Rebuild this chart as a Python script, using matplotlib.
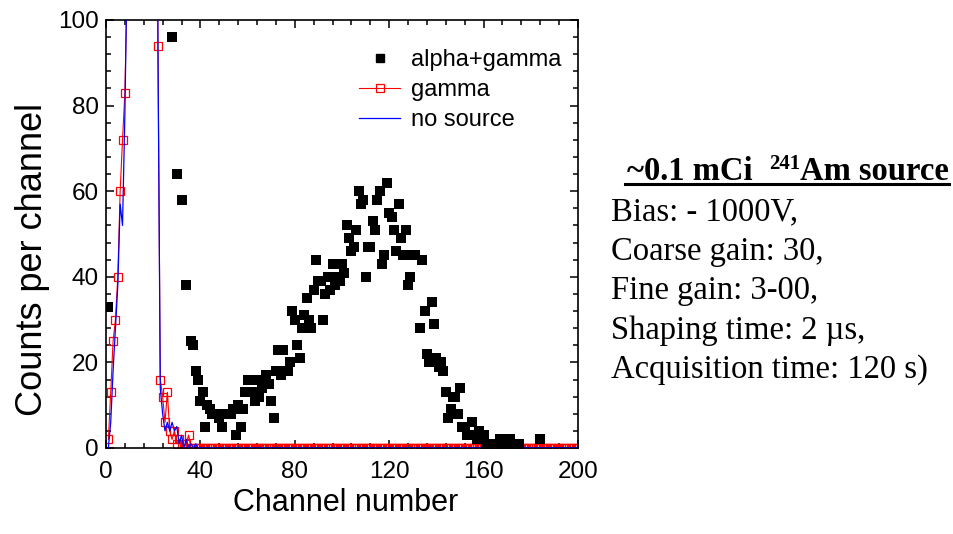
import matplotlib
matplotlib.use("Agg")
import matplotlib.pyplot as plt
from matplotlib.lines import Line2D
from matplotlib.ticker import MultipleLocator

# gamma only source, channels 1..200 (9-21 run off the top of the plot)
gamma_ch = list(range(1, 201))
gamma_counts = [2, 13, 25, 30, 40, 60, 72, 83, 110, 190, 300, 420, 520, 580, 600,
                570, 500, 420, 340, 280, 230, 94, 16, 12, 6, 13, 4, 2, 4, 1,
                2, 1, 0, 1, 3, 0] + [0] * 164

# no source
nosrc_ch = list(range(1, 201))
nosrc_counts = [0, 6, 18, 28, 38, 57, 52, 78, 115, 200, 310, 430, 530, 590, 610,
                580, 510, 430, 350, 290, 260, 95, 14, 8, 4, 6, 4, 6, 4, 5,
                1, 3, 0, 2, 0, 1, 0, 1] + [0] * 162

# alpha+gamma, points inside the plotted window (zero channels not drawn)
ag_ch = [1, 28, 30, 32, 34, 36, 37, 38, 39, 40, 41, 42, 43, 44, 45, 46, 47, 48,
         49, 50, 51, 52, 53, 54, 55, 56, 57, 58, 59, 60, 61, 62, 63, 64, 65, 66,
         67, 68, 69, 70, 71, 72, 73, 74, 75, 76, 77, 78, 79, 80, 81, 82, 83, 84,
         85, 86, 87, 88, 89, 90, 91, 92, 93, 94, 95, 96, 97, 98, 99, 100, 101,
         102, 103, 104, 105, 106, 107, 108, 109, 110, 111, 112, 113, 114, 115,
         116, 117, 118, 119, 120, 121, 122, 123, 124, 125, 126, 127, 128, 129,
         130, 131, 133, 134, 135, 136, 137, 138, 139, 140, 141, 142, 143, 144,
         145, 146, 147, 148, 149, 150, 151, 152, 153, 155, 156, 157, 158, 160,
         161, 162, 163, 164, 165, 166, 167, 168, 169, 170, 171, 172, 174, 175, 184]
ag_counts = [33, 96, 64, 58, 38, 25, 24, 18, 16, 11, 13, 5, 10, 9, 8, 8, 8, 7,
             5, 8, 8, 8, 8, 9, 3, 10, 5, 9, 13, 16, 16, 13, 11, 16, 12, 14,
             15, 17, 15, 11, 7, 18, 23, 17, 23, 18, 18, 20, 32, 30, 24, 21, 28, 31,
             35, 30, 28, 37, 44, 39, 39, 30, 36, 40, 37, 43, 38, 40, 39, 43, 41,
             52, 49, 46, 47, 51, 60, 57, 58, 40, 47, 47, 53, 51, 58,
             60, 43, 45, 62, 55, 54, 51, 46, 57, 49, 45, 51, 38, 40,
             45, 45, 28, 44, 32, 22, 20, 34, 29, 21, 19, 20, 18, 13,
             7, 9, 12, 12, 8, 14, 5, 5, 3, 6, 3, 2, 4, 3,
             1, 1, 1, 1, 1, 1, 2, 2, 1, 2, 2, 1, 1, 1, 2]

info_title = ["~0.1 mCi  ", "241", "Am source"]
info_lines = ["Bias: - 1000V,", "Coarse gain: 30,", "Fine gain: 3-00,",
              "Shaping time: 2 \u00b5s,", "Acquisition time: 120 s)"]

W, H = 954, 534
sans = "Liberation Sans"
serif = "Liberation Serif"

fig = plt.figure(figsize=(W / 100, H / 100), dpi=100)
ax = fig.add_axes([106 / W, 1 - 448 / H, 472 / W, 428 / H])

ax.plot(gamma_ch, gamma_counts, color="red", lw=0.8, marker="s", ms=5.2,
        mfc="none", mec="red", mew=0.9, label="gamma", zorder=2)
ax.plot(nosrc_ch, nosrc_counts, color="blue", lw=0.9, label="no source", zorder=3)
ax.scatter(ag_ch, ag_counts, marker="s", s=52, color="black", lw=0,
           label="alpha+gamma", zorder=4)

ax.set_xlim(0, 200)
ax.set_ylim(0, 100)
ax.xaxis.set_major_locator(MultipleLocator(40))
ax.xaxis.set_minor_locator(MultipleLocator(8))
ax.yaxis.set_major_locator(MultipleLocator(20))
ax.yaxis.set_minor_locator(MultipleLocator(4))
ax.tick_params(which="both", direction="in", top=True, right=True, width=1.1)
ax.tick_params(which="major", length=6)
ax.tick_params(which="minor", length=3.5)
for sp in ax.spines.values():
    sp.set_linewidth(1.2)

for lbl in ax.get_xticklabels() + ax.get_yticklabels():
    lbl.set_fontfamily(sans)
    lbl.set_fontsize(17.5)
ax.tick_params(axis="x", pad=9)
ax.tick_params(axis="y", pad=5)
ax.set_xlabel("Channel number", fontfamily=sans, fontsize=22)
ax.xaxis.set_label_coords(0.508, -0.094)
ax.set_ylabel("Counts per channel", fontfamily=sans, fontsize=26)
ax.yaxis.set_label_coords(-0.119, 0.44)

handles = [
    Line2D([], [], ls="none", marker="s", ms=6, color="black"),
    Line2D([], [], color="red", lw=0.8, marker="s", ms=6, mfc="none", mew=0.9),
    Line2D([], [], color="blue", lw=0.9),
]
ax.legend(handles, ["alpha+gamma", "gamma", "no source"], loc="upper right",
          bbox_to_anchor=(0.995, 0.965), frameon=False,
          prop={"family": sans, "size": 17}, handlelength=1.75,
          handletextpad=0.45, labelspacing=0.34, borderaxespad=0.2)

# info block on the right
fig.canvas.draw()
rend = fig.canvas.get_renderer()
ybase = 1 - 180 / H
t1 = fig.text(627 / W, ybase, info_title[0], family=serif, weight="bold", size=23.5,
              va="baseline")
bb = t1.get_window_extent(rend)
t2 = fig.text(bb.x1 / W, ybase + 11 / H, info_title[1], family=serif,
              weight="bold", size=15, va="baseline")
bb2 = t2.get_window_extent(rend)
t3 = fig.text(bb2.x1 / W, ybase, info_title[2], family=serif, weight="bold", size=23.5,
              va="baseline")
bb3 = t3.get_window_extent(rend)
fig.add_artist(Line2D([bb.x0 / W - 0.002, bb3.x1 / W], [ybase - 4 / H, ybase - 4 / H],
                      transform=fig.transFigure, color="black", lw=2.2))

for i, line in enumerate(info_lines):
    fig.text(611 / W, 1 - (212 + 39.5 * i) / H, line, family=serif, size=23.5,
             va="center")

fig.savefig("out.png", dpi=100)
